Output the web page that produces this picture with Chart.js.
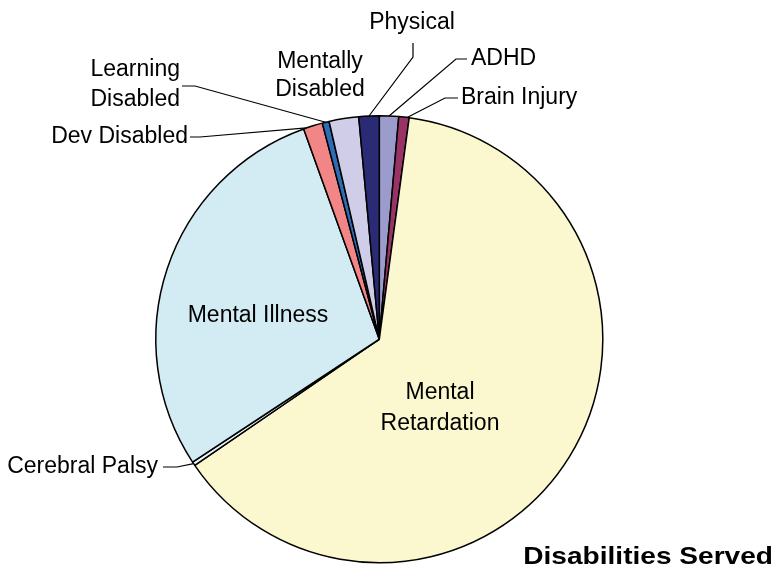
<!DOCTYPE html>
<html>
<head>
<meta charset="utf-8">
<script src="https://cdn.jsdelivr.net/npm/chart.js@4.4.1/dist/chart.umd.min.js"></script>
<style>
html, body { margin: 0; padding: 0; background: #fff; }
</style>
</head>
<body>
<canvas id="pie-chartcanvas" width="774" height="567"></canvas>
<script>
// slices, clockwise from 12 o'clock
var categories = ["ADHD", "Brain Injury", "Mental Retardation", "Cerebral Palsy", "Mental Illness",
	"Dev Disabled", "Learning Disabled", "Mentally Disabled", "Physical"];
var shares = [1.39, 0.75, 63.4, 0.28, 28.8, 1.39, 0.5, 2.14, 1.47];
var sliceColors = ["#9b9bcc", "#993366", "#fbf7ce", "#e6f3f7", "#d3ecf3",
	"#f28585", "#2d6db5", "#cfcde8", "#2a2b74"];
var chartTitle = "Disabilities Served";

// where each label sits, the elbow of its leader line (if any),
// and where along the slice edge the leader ends (0 = start, 1 = end)
var labelLayout = [
	{ lines: ["ADHD"], x: 471, y: 59, align: "left", leader: [[467, 59], [456, 59]], at: 0.5 },
	{ lines: ["Brain Injury"], x: 461, y: 98, align: "left", leader: [[458, 98], [445, 98]], at: 0.8 },
	{ lines: ["Mental", "Retardation"], x: 440, y: 393, align: "center", lh: 31 },
	{ lines: ["Cerebral Palsy"], x: 158, y: 467, align: "right", leader: [[163, 467], [177, 467]], at: 0.5 },
	{ lines: ["Mental Illness"], x: 258, y: 316, align: "center" },
	{ lines: ["Dev Disabled"], x: 188, y: 137, align: "right", leader: [[190, 137], [200, 137]], at: 0.15 },
	{ lines: ["Learning", "Disabled"], x: 180, y: 70, align: "right", lh: 30, leader: [[182, 86], [195, 86]], at: 0.5 },
	{ lines: ["Mentally", "Disabled"], x: 320, y: 62, align: "center", lh: 28 },
	{ lines: ["Physical"], x: 412, y: 23, align: "center", leader: [[413, 43], [413, 57]], at: 0.5 }
];

var sliceLabels = {
	id: "sliceLabels",
	afterDatasetsDraw: function(chart) {
		var ctx = chart.ctx;
		var arcs = chart.getDatasetMeta(0).data;
		ctx.save();
		ctx.font = '23px "Liberation Sans", Arial, sans-serif';
		ctx.fillStyle = "#000";
		ctx.strokeStyle = "#000";
		ctx.lineWidth = 1.2;
		ctx.textBaseline = "middle";
		for (var i = 0; i < arcs.length; i++) {
			var lay = labelLayout[i];
			if (lay.leader) {
				var p = arcs[i].getProps(["x", "y", "startAngle", "endAngle", "outerRadius"], true);
				var a = p.startAngle + (p.endAngle - p.startAngle) * lay.at;
				ctx.beginPath();
				ctx.moveTo(lay.leader[0][0], lay.leader[0][1]);
				ctx.lineTo(lay.leader[1][0], lay.leader[1][1]);
				ctx.lineTo(p.x + Math.cos(a) * p.outerRadius, p.y + Math.sin(a) * p.outerRadius);
				ctx.stroke();
			}
			ctx.textAlign = lay.align;
			for (var j = 0; j < lay.lines.length; j++) {
				ctx.fillText(lay.lines[j], lay.x, lay.y + j * (lay.lh || 0));
			}
		}
		// title, bottom right (drawn a little wide, like the original)
		ctx.font = 'bold 24px "Liberation Sans", Arial, sans-serif';
		ctx.textAlign = "right";
		ctx.textBaseline = "alphabetic";
		ctx.translate(773, 564);
		ctx.scale(1.17, 1);
		ctx.fillText(chartTitle, 0, 0);
		ctx.restore();
	}
};

var ctx = document.getElementById("pie-chartcanvas");

var chart = new Chart(ctx, {
	type: "pie",
	data: {
		labels: categories,
		datasets: [{
			data: shares,
			backgroundColor: sliceColors,
			borderColor: "#000",
			borderWidth: 1.5,
			hoverBorderWidth: 1.5
		}]
	},
	options: {
		responsive: false,
		animation: false,
		events: [],
		rotation: 0,
		layout: { padding: { top: 115, bottom: 3.5, left: 0, right: 15.4 } },
		plugins: {
			legend: { display: false },
			tooltip: { enabled: false },
			title: { display: false }
		}
	},
	plugins: [sliceLabels]
});
</script>
</body>
</html>
